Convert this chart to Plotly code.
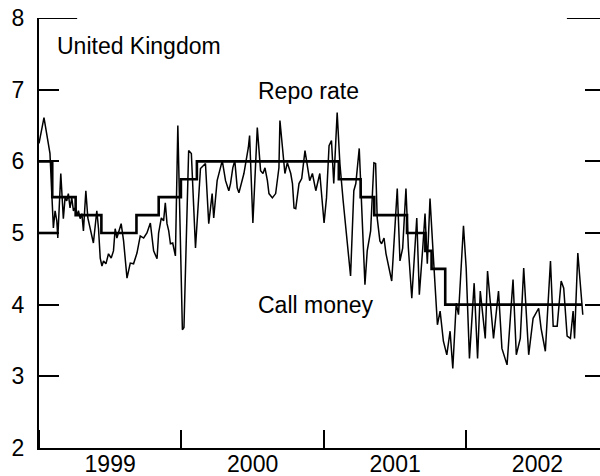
import plotly.graph_objects as go
import pandas as pd

# ---- data -------------------------------------------------------------
# Repo rate (Bank of England), step changes
repo_dates = ['1999-01-01', '1999-02-04', '1999-04-05', '1999-06-10', '1999-09-08',
              '1999-11-04', '1999-12-31', '2000-02-10', '2001-02-08', '2001-04-05',
              '2001-05-10', '2001-08-02', '2001-09-18', '2001-10-04', '2001-11-08',
              '2002-10-25']
repo_rate = [6.0, 5.5, 5.25, 5.0, 5.25, 5.5, 5.75, 6.0, 5.75, 5.5, 5.25, 5.0,
             4.75, 4.5, 4.0, 4.0]

# short flat piece at the very start of the series
early_dates = ['1999-01-01', '1999-02-18']
early_rate = [5.0, 5.0]

# Call money rate (decimal year, percent)
call_money_year = [
    1999.000, 1999.035, 1999.077, 1999.089, 1999.101, 1999.113, 1999.125, 1999.132,
    1999.153, 1999.171, 1999.183, 1999.195, 1999.206, 1999.218, 1999.230, 1999.242,
    1999.254, 1999.265, 1999.277, 1999.289, 1999.301, 1999.312, 1999.329, 1999.343,
    1999.359, 1999.371, 1999.382, 1999.406, 1999.418, 1999.430, 1999.442, 1999.453,
    1999.470, 1999.488, 1999.507, 1999.523, 1999.535, 1999.547, 1999.558, 1999.577,
    1999.594, 1999.618, 1999.641, 1999.664, 1999.688, 1999.711, 1999.735, 1999.758,
    1999.782, 1999.805, 1999.829, 1999.840, 1999.859, 1999.875, 1999.887, 1999.899,
    1999.911, 1999.923, 1999.939, 1999.958, 1999.975, 2000.007, 2000.018, 2000.051,
    2000.070, 2000.099, 2000.134, 2000.169, 2000.192, 2000.216, 2000.227, 2000.251,
    2000.287, 2000.310, 2000.333, 2000.345, 2000.361, 2000.375, 2000.392, 2000.404,
    2000.439, 2000.470, 2000.479, 2000.502, 2000.533, 2000.556, 2000.573, 2000.587,
    2000.604, 2000.615, 2000.639, 2000.662, 2000.685, 2000.692, 2000.727, 2000.744,
    2000.768, 2000.780, 2000.791, 2000.803, 2000.826, 2000.845, 2000.868, 2000.885,
    2000.901, 2000.920, 2000.944, 2000.972, 2001.002, 2001.019, 2001.037, 2001.054,
    2001.070, 2001.094, 2001.113, 2001.136, 2001.164, 2001.188, 2001.211, 2001.225,
    2001.249, 2001.265, 2001.289, 2001.305, 2001.329, 2001.352, 2001.364, 2001.375,
    2001.394, 2001.406, 2001.423, 2001.437, 2001.477, 2001.516, 2001.535, 2001.554,
    2001.577, 2001.594, 2001.618, 2001.653, 2001.671, 2001.695, 2001.711, 2001.727,
    2001.746, 2001.770, 2001.798, 2001.817, 2001.840, 2001.864, 2001.887, 2001.906,
    2001.930, 2001.946, 2001.981, 2002.000, 2002.023, 2002.056, 2002.080, 2002.099,
    2002.134, 2002.150, 2002.192, 2002.227, 2002.251, 2002.287, 2002.329, 2002.352,
    2002.380, 2002.404, 2002.439, 2002.470, 2002.509, 2002.526, 2002.556, 2002.592,
    2002.611, 2002.639, 2002.667, 2002.685, 2002.709, 2002.732, 2002.751, 2002.761,
    2002.784, 2002.819]
call_money_rate = [
    6.25, 6.61, 6.11, 5.49, 5.07, 5.31, 5.17, 4.93,
    5.83, 5.20, 5.49, 5.45, 5.55, 5.35, 5.49, 5.31,
    5.35, 5.24, 5.31, 5.20, 5.27, 5.03, 5.59, 5.21,
    5.07, 4.99, 4.86, 5.31, 5.06, 4.65, 4.54, 4.61,
    4.57, 4.71, 4.65, 4.75, 5.06, 4.93, 5.00, 5.13,
    4.89, 4.37, 4.58, 4.57, 4.72, 4.96, 4.93, 5.00,
    5.14, 4.75, 4.64, 5.00, 5.21, 5.17, 5.42, 5.13,
    5.03, 4.85, 4.86, 4.68, 6.50, 3.65, 3.68, 6.15,
    6.11, 4.79, 5.90, 5.97, 5.13, 5.55, 5.21, 5.73,
    6.01, 5.73, 5.59, 5.69, 5.91, 6.01, 5.63, 5.56,
    5.83, 6.19, 6.36, 5.14, 6.47, 5.87, 5.83, 5.91,
    5.73, 5.55, 5.49, 5.55, 5.91, 6.57, 5.83, 5.98,
    5.83, 5.69, 5.35, 5.34, 5.69, 5.76, 6.15, 5.91,
    5.73, 5.83, 5.59, 5.83, 5.14, 5.49, 6.22, 6.29,
    5.69, 6.68, 5.97, 5.45, 4.85, 4.40, 5.59, 5.69,
    6.18, 5.49, 4.28, 4.75, 5.03, 5.98, 5.97, 5.21,
    4.89, 4.85, 4.93, 4.71, 4.33, 5.62, 4.61, 4.79,
    5.62, 4.79, 4.09, 5.21, 4.14, 4.79, 5.27, 4.57,
    5.48, 4.65, 3.72, 3.91, 3.49, 3.30, 3.63, 3.11,
    4.02, 3.86, 5.10, 4.51, 3.25, 4.30, 3.25, 4.19,
    3.53, 4.47, 3.53, 4.19, 3.39, 3.16, 4.35, 3.30,
    3.53, 4.51, 3.30, 3.81, 3.95, 3.67, 3.35, 4.61,
    3.70, 3.70, 4.33, 4.23, 3.56, 3.53, 3.91, 3.53,
    4.72, 3.86]

y_ticks = [2, 3, 4, 5, 6, 7, 8]

# ---- helpers ------------------------------------------------------------
def year_to_date(y):
    return pd.Timestamp('1999-01-01') + pd.Timedelta(days=(y - 1999) * 365.25)

call_money_dates = [year_to_date(y) for y in call_money_year]

FONT = "Liberation Sans, Arial, Helvetica, sans-serif"
FS = 23

fig = go.Figure()
fig.add_trace(go.Scatter(x=call_money_dates, y=call_money_rate, mode='lines',
                         line=dict(color='black', width=1.5), name='Call money',
                         showlegend=False))
fig.add_trace(go.Scatter(x=repo_dates, y=repo_rate, mode='lines',
                         line=dict(color='black', width=2.6, shape='hv'),
                         name='Repo rate', showlegend=False, yaxis='y2'))
fig.add_trace(go.Scatter(x=early_dates, y=early_rate, mode='lines',
                         line=dict(color='black', width=2.6),
                         showlegend=False, yaxis='y2'))

fig.update_layout(
    width=600, height=476,
    margin=dict(l=39, r=0, t=18, b=28),
    paper_bgcolor='white', plot_bgcolor='white',
    font=dict(family=FONT, size=FS, color='black'),
    xaxis=dict(type='date', range=['1999-01-01', '2002-12-10'],
               tick0='1999-01-01', dtick='M12', tickformat='%Y',
               ticklabelmode='period', ticks='inside', ticklen=18, tickwidth=2,
               tickcolor='black', showline=True, linewidth=2, linecolor='black',
               showgrid=False, zeroline=False, automargin=False,
               ticklabelstandoff=-6, ticklabeloverflow='allow',
               tickfont=dict(family=FONT, size=FS)),
    yaxis=dict(range=[2, 8], tickvals=y_ticks, ticks='inside', ticklen=20,
               tickwidth=2, tickcolor='black', showline=True, linewidth=2,
               linecolor='black', showgrid=False, zeroline=False,
               automargin=False, ticklabelstandoff=8, ticklabeloverflow='allow',
               tickfont=dict(family=FONT, size=FS)),
    yaxis2=dict(range=[2, 8], tickvals=y_ticks, ticks='inside', ticklen=15,
                tickwidth=2, tickcolor='black', showline=False,
                showticklabels=False, showgrid=False, zeroline=False,
                automargin=False, overlaying='y', side='right'),
    shapes=[
        dict(type='line', xref='paper', yref='y', x0=0, x1=0.068, y0=8, y1=8,
             line=dict(color='black', width=2)),
        dict(type='line', xref='paper', yref='y', x0=0.941, x1=1, y0=8, y1=8,
             line=dict(color='black', width=2)),
    ],
    annotations=[
        dict(text='United Kingdom', xref='paper', yref='paper', x=0.029, y=0.935,
             xanchor='left', yanchor='middle', showarrow=False,
             font=dict(family=FONT, size=FS)),
        dict(text='Repo rate', xref='paper', yref='paper', x=0.386, y=0.83,
             xanchor='left', yanchor='middle', showarrow=False,
             font=dict(family=FONT, size=FS)),
        dict(text='Call money', xref='paper', yref='paper', x=0.386, y=0.333,
             xanchor='left', yanchor='middle', showarrow=False,
             font=dict(family=FONT, size=FS)),
    ],
)

# remove the browser's default 8px body margin so the figure fills the window
fig.write_html("out.html", config={'displayModeBar': False},
               post_script="document.body.style.margin='0';")
